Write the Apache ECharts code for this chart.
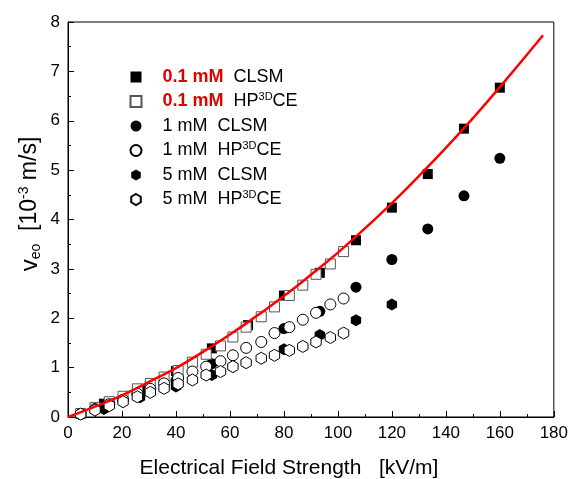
<!DOCTYPE html>
<html><head><meta charset="utf-8">
<script src="https://cdn.jsdelivr.net/npm/echarts@6/dist/echarts.min.js"></script>
<style>html,body{margin:0;padding:0;background:#fff}#c{width:571px;height:479px}</style>
</head><body><div id="c"></div>
<script>
// ---- data ----
const fieldCLSM01 = [13.3, 26.7, 40, 53.3, 66.7, 80, 93.3, 106.7, 120, 133.3, 146.7, 160];
const clsm01 = [0.27, 0.55, 0.93, 1.39, 1.86, 2.46, 2.92, 3.58, 4.24, 4.92, 5.84, 6.67];
const fieldCLSM1 = [13.3, 26.7, 40, 53.3, 80, 93.3, 106.7, 120, 133.3, 146.7, 160];
const clsm1  = [0.20, 0.47, 0.74, 1.08, 1.79, 2.14, 2.63, 3.19, 3.81, 4.48, 5.24];
const fieldCLSM5 = [13.3, 26.7, 40, 53.3, 80, 93.3, 106.7, 120];
const clsm5  = [0.16, 0.40, 0.62, 0.85, 1.37, 1.66, 1.96, 2.28];
const fieldHP = [4.7, 10.0, 15.3, 20.4, 25.7, 30.5, 35.6, 40.8, 46.1, 51.2, 56.5, 61.1, 66.0, 71.6, 76.5, 82.0, 87.0, 91.9, 97.2, 102.1];
const hp01 = [0.07, 0.19, 0.31, 0.42, 0.57, 0.68, 0.81, 0.94, 1.11, 1.27, 1.44, 1.62, 1.82, 2.03, 2.23, 2.46, 2.67, 2.89, 3.10, 3.35];
const hp1  = [0.06, 0.16, 0.26, 0.35, 0.47, 0.57, 0.68, 0.79, 0.92, 1.02, 1.13, 1.25, 1.40, 1.52, 1.70, 1.82, 1.97, 2.11, 2.28, 2.40];
const hp5  = [0.06, 0.14, 0.23, 0.31, 0.41, 0.50, 0.58, 0.67, 0.75, 0.85, 0.92, 1.02, 1.10, 1.19, 1.25, 1.35, 1.43, 1.52, 1.61, 1.70];
const fitX = [0, 10, 20, 30, 40, 50, 60, 70, 80, 90, 100, 110, 120, 130, 140, 150, 160, 176];
const fitY = [0, 0.21, 0.44, 0.71, 0.99, 1.32, 1.67, 2.05, 2.45, 2.88, 3.33, 3.82, 4.33, 4.88, 5.45, 6.05, 6.68, 7.73];
const xTicks = [0, 20, 40, 60, 80, 100, 120, 140, 160, 180];
const yTicks = [0, 1, 2, 3, 4, 5, 6, 7, 8];
const seriesNames = ['0.1 mM CLSM', '0.1 mM HP3DCE', '1 mM CLSM', '1 mM HP3DCE', '5 mM CLSM', '5 mM HP3DCE'];
const xTitle = 'Electrical Field Strength   [kV/m]';

const FONT = "'Liberation Sans',Arial,sans-serif";
const zip = (xs, ys) => ys.map((y, i) => [xs[i], y]);
const HEX = 'path://M0,-1 L0.866,-0.5 L0.866,0.5 L0,1 L-0.866,0.5 L-0.866,-0.5 Z';

const chart = echarts.init(document.getElementById('c'), null, {renderer: 'canvas'});
const scat = (name, data, symbol, size, filled, border) => ({
  name, type: 'scatter', data, symbol, symbolSize: size, symbolKeepAspect: true,
  itemStyle: filled ? {color: '#000', borderWidth: 0, opacity: 1}
                    : {color: '#fff', borderColor: border, borderWidth: 1, opacity: 1},
  emphasis: {disabled: true}
});
const labelFmt = (name) => {
  const parts = name.split(' ');
  const conc = parts[0] + ' ' + parts[1];
  const meth = parts[2];
  const concTxt = parts[0] === '0.1' ? '{r|' + conc + '}' : '{t|' + conc + '}';
  const methTxt = meth === 'CLSM' ? '{t|CLSM}' : '{t|HP}{s|3D}{t|CE}';
  return '{p|}' + concTxt + '{t|  }' + methTxt;
};
chart.setOption({
  animation: false,
  grid: {left: 68, right: 16, top: 22, bottom: 62, show: true, borderColor: '#000', borderWidth: 1},
  xAxis: {
    type: 'value', min: 0, max: 180, interval: 20,
    axisLine: {lineStyle: {color: '#000', width: 1}},
    axisTick: {inside: true, length: 6, lineStyle: {color: '#000'}},
    minorTick: {show: true, splitNumber: 2, length: 3, lineStyle: {color: '#000'}},
    splitLine: {show: false},
    axisLabel: {fontFamily: FONT, fontSize: 17, color: '#000', margin: 8,
      formatter: v => xTicks.includes(v) ? String(v) : ''}
  },
  yAxis: {
    type: 'value', min: 0, max: 8, interval: 1,
    axisLine: {lineStyle: {color: '#000', width: 1}},
    axisTick: {inside: true, length: 6, lineStyle: {color: '#000'}},
    minorTick: {show: true, splitNumber: 2, length: 3, lineStyle: {color: '#000'}},
    splitLine: {show: false},
    axisLabel: {fontFamily: FONT, fontSize: 17, color: '#000', margin: 8,
      formatter: v => yTicks.includes(v) ? String(v) : ''}
  },
  graphic: [
    {type: 'text', x: 289, y: 468, style: {text: xTitle, fontFamily: FONT, fontSize: 21, fill: '#000',
      align: 'center', verticalAlign: 'middle'}},
    {type: 'text', x: 30, y: 204, rotation: Math.PI / 2, style: {
      text: '{v|v}{sub|eo}{n|  [10}{sup|-3}{n| m/s]}', fontFamily: FONT, fontSize: 23, fill: '#000',
      align: 'center', verticalAlign: 'middle',
      rich: {
        v: {fontFamily: FONT, fontSize: 24, fill: '#000'},
        n: {fontFamily: FONT, fontSize: 23, fill: '#000'},
        sub: {fontFamily: FONT, fontSize: 14, fill: '#000', padding: [12, 0, 0, 0]},
        sup: {fontFamily: FONT, fontSize: 14, fill: '#000', padding: [0, 0, 12, 0]}
      }}}
  ],
  legend: {
    orient: 'vertical', left: 124.5, top: 63, itemWidth: 11, itemHeight: 11, itemGap: 5.5,
    selectedMode: false,
    data: seriesNames,
    formatter: labelFmt,
    textStyle: {fontFamily: FONT, fontSize: 18, color: '#000',
      rich: {
        p: {width: 16, lineHeight: 18},
        t: {fontFamily: FONT, fontSize: 18, color: '#000', lineHeight: 18},
        r: {fontFamily: FONT, fontSize: 18, color: '#e00000', fontWeight: 'bold', lineHeight: 18},
        s: {fontFamily: FONT, fontSize: 11, color: '#000', padding: [0, 0, 9, 0], lineHeight: 18}
      }}
  },
  series: [
    scat(seriesNames[0], zip(fieldCLSM01, clsm01), 'rect', 10, true),
    scat(seriesNames[2], zip(fieldCLSM1, clsm1), 'circle', 11, true),
    scat(seriesNames[4], zip(fieldCLSM5, clsm5), HEX, 12, true),
    scat(seriesNames[1], zip(fieldHP, hp01), 'rect', 10, false, '#555'),
    scat(seriesNames[3], zip(fieldHP, hp1), 'circle', 11, false, '#000'),
    scat(seriesNames[5], zip(fieldHP, hp5), HEX, 12, false, '#000'),
    {name: 'fit', type: 'line', data: zip(fitX, fitY), smooth: true, showSymbol: false,
      lineStyle: {color: '#ff0000', width: 2.5}, z: 10, emphasis: {disabled: true}}
  ]
});
</script></body></html>
